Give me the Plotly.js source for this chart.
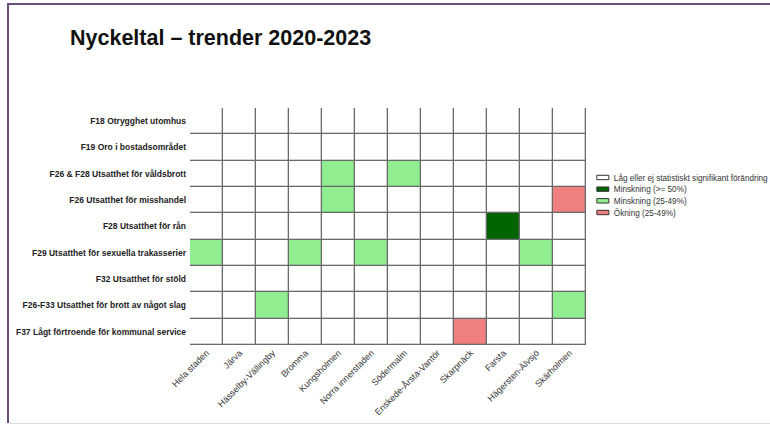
<!DOCTYPE html>
<html>
<head>
<meta charset="utf-8">
<script src="https://cdn.plot.ly/plotly-3.0.1.min.js"></script>
<style>
html,body{margin:0;padding:0;background:#fff;}
#wrap{position:relative;width:770px;height:425px;overflow:hidden;}
#chart{position:absolute;left:0;top:0;width:770px;height:425px;}
#frame{position:absolute;left:7px;top:3px;right:-5px;bottom:2px;border-left:2px solid #6b4f7a;border-top:2px solid #6b4f7a;pointer-events:none;}
#bottom{position:absolute;left:9px;right:0;top:423px;height:1px;background:#e0e0e0;}
</style>
</head>
<body>
<div id="wrap">
<div id="chart"></div>
<div id="frame"></div>
<div id="bottom"></div>
</div>
<script>
const districts = ["Hela staden","Järva","Hässelby-Vällingby","Bromma","Kungsholmen","Norra innerstaden","Södermalm","Enskede-Årsta-Vantör","Skarpnäck","Farsta","Hägersten-Älvsjö","Skärholmen"];
const indicators = ["F18 Otrygghet utomhus","F19 Oro i bostadsområdet","F26 & F28 Utsatthet för våldsbrott","F26 Utsatthet för misshandel","F28 Utsatthet för rån","F29 Utsatthet för sexuella trakasserier","F32 Utsatthet för stöld","F26-F33 Utsatthet för brott av något slag","F37 Lågt förtroende för kommunal service"];
// 0 = låg/ej signifikant, 1 = minskning >=50%, 2 = minskning 25-49%, 3 = ökning 25-49%
const rowF18    = [0,0,0,0,0,0,0,0,0,0,0,0];
const rowF19    = [0,0,0,0,0,0,0,0,0,0,0,0];
const rowF26F28 = [0,0,0,0,2,0,2,0,0,0,0,0];
const rowF26    = [0,0,0,0,2,0,0,0,0,0,0,3];
const rowF28    = [0,0,0,0,0,0,0,0,0,1,0,0];
const rowF29    = [2,0,0,2,0,2,0,0,0,0,2,0];
const rowF32    = [0,0,0,0,0,0,0,0,0,0,0,0];
const rowF26F33 = [0,0,2,0,0,0,0,0,0,0,0,2];
const rowF37    = [0,0,0,0,0,0,0,0,3,0,0,0];
const categoryNames = ["Låg eller ej statistiskt signifikant förändring","Minskning (>= 50%)","Minskning (25-49%)","Ökning (25-49%)"];
const categoryColors = ["#ffffff","#006400","#90ee90","#f08080"];

const z = [rowF18,rowF19,rowF26F28,rowF26,rowF28,rowF29,rowF32,rowF26F33,rowF37];
const xIdx = districts.map((d,i)=>i);
const yIdx = indicators.map((d,i)=>i);
const cs = [];
categoryColors.forEach((c,i)=>{cs.push([i/4,c]);cs.push([(i+1)/4,c]);});

const traces = [{
  type:'heatmap', z:z, x:xIdx, y:yIdx, zmin:-0.5, zmax:3.5,
  colorscale:cs, showscale:false, xgap:1.3, ygap:1.3, hoverinfo:'skip', showlegend:false
}];
categoryNames.forEach((n,i)=>{
  traces.push({type:'bar', x:[null], y:[null], name:n, marker:{color:categoryColors[i], line:{color:'#333', width:1}}, hoverinfo:'skip'});
});

const layout = {
  width:770, height:425,
  margin:{l:190, r:184, t:108, b:80, autoexpand:false},
  paper_bgcolor:'rgba(0,0,0,0)',
  plot_bgcolor:'#6a6a6a',
  font:{family:'Liberation Sans, Arial, sans-serif', size:8, color:'#333'},
  title:{text:'<b>Nyckeltal – trender 2020-2023</b>', x:70/770, xanchor:'left', y:1-37/425, yanchor:'middle', font:{size:21.5, color:'#111', family:'Liberation Sans, Arial, sans-serif'}},
  xaxis:{tickmode:'array', tickvals:xIdx, ticktext:districts, tickangle:-45, range:[-0.5,11.5], showgrid:false, zeroline:false, ticks:'', fixedrange:true, tickfont:{size:9, color:'#333'}},
  yaxis:{tickmode:'array', tickvals:yIdx, ticktext:indicators.map(s=>'<b>'+s+'</b>'), range:[8.5,-0.5], showgrid:false, zeroline:false, ticks:'', ticklen:0, ticklabelstandoff:3, fixedrange:true, tickfont:{size:8.5, color:'#222'}},
  showlegend:true,
  legend:{x:0.992, xanchor:'left', y:0.768, yanchor:'top', font:{size:8.2, color:'#333'}, bgcolor:'rgba(0,0,0,0)', tracegroupgap:0, itemwidth:30}
};
Plotly.newPlot('chart', traces, layout, {displayModeBar:false, staticPlot:true}).then(function(gd){
  try {
    const items = gd.querySelectorAll('.legend .traces');
    let x0 = null, y0 = null;
    items.forEach(function(g, i){
      const tr = g.getAttribute('transform') || '';
      const m = tr.match(/translate\(\s*([-\d.]+)[ ,]+([-\d.]+)\s*\)/);
      if (m && x0 === null) { x0 = parseFloat(m[1]); y0 = parseFloat(m[2]); }
      if (x0 !== null) g.setAttribute('transform', 'translate(' + x0 + ',' + (y0 + i * 11.67) + ')');
      g.querySelectorAll('.legendpoints path').forEach(function(p){
        p.setAttribute('d', 'M6,2.2H-6V-2.2H6Z');
      });
      const t = g.querySelector('text.legendtext');
      if (t) t.setAttribute('x', '31');
    });
  } catch(e) {}
});
</script>
</body>
</html>
